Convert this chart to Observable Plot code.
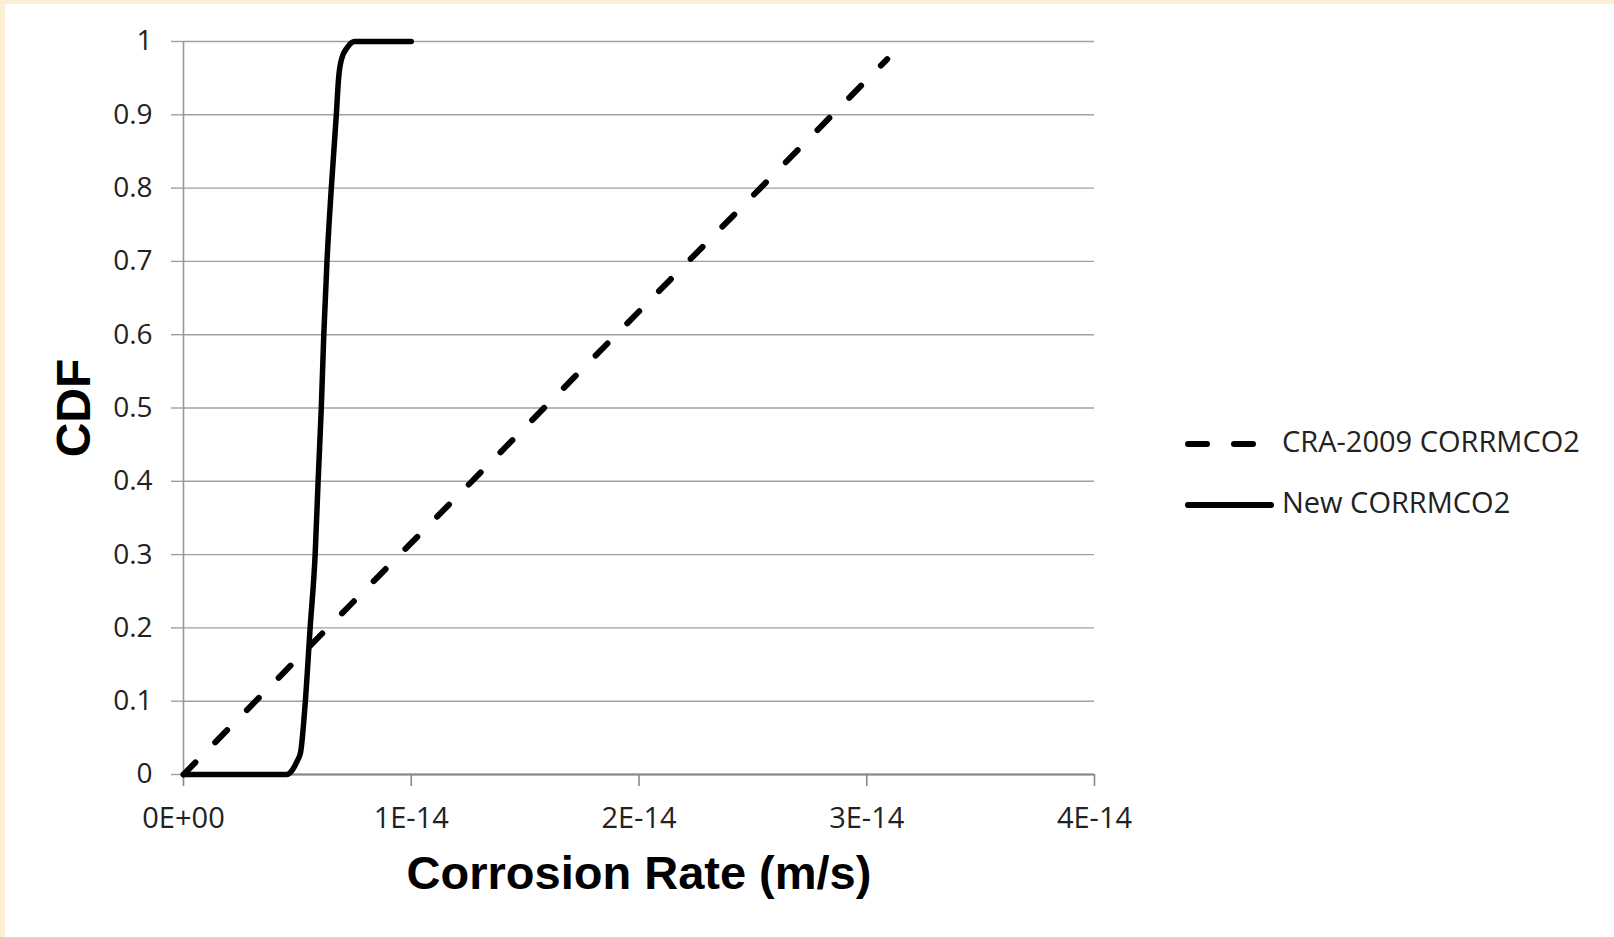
<!DOCTYPE html>
<html>
<head>
<meta charset="utf-8">
<script src="https://cdn.jsdelivr.net/npm/d3@7"></script>
<script src="https://cdn.jsdelivr.net/npm/@observablehq/plot@0.6"></script>
<style>
  html, body { margin: 0; padding: 0; background: #ffffff; }
  #wrap { position: relative; width: 1614px; height: 937px; overflow: hidden; background: #ffffff; }
  .band { position: absolute; background: #fcefd5; }
  #legend { position: absolute; left: 0; top: 0; }
</style>
</head>
<body>
<div id="wrap">
  <div class="band" style="left:0;top:0;width:1614px;height:4px;"></div>
  <div class="band" style="left:0;top:0;width:5px;height:937px;"></div>
  <div id="chart"></div>
  <svg id="legend" width="1614" height="937"></svg>
</div>
<script>
// ---- data (corrosion rate in m/s, CDF) ----
const craRate = [0, 3.09e-14];
const craCdf  = [0, 0.976];

const newRate = [0, 0.452e-14, 0.48e-14, 0.50e-14, 0.514e-14, 0.535e-14, 0.556e-14, 0.578e-14,
                 0.591e-14, 0.605e-14, 0.616e-14, 0.630e-14, 0.649e-14, 0.671e-14, 0.681e-14,
                 0.693e-14, 0.722e-14, 0.751e-14, 1.0e-14];
const newCdf  = [0, 0, 0.007, 0.019, 0.03, 0.1, 0.2, 0.3,
                 0.4, 0.5, 0.6, 0.7, 0.8, 0.9, 0.95,
                 0.975, 0.993, 1.0, 1.0];

const seriesNames = ["CRA-2009 CORRMCO2", "New CORRMCO2"];

const xTicks = [0, 1e-14, 2e-14, 3e-14, 4e-14];
const xTickLabels = ["0E+00", "1E-14", "2E-14", "3E-14", "4E-14"];
const yTicks = [0, 0.1, 0.2, 0.3, 0.4, 0.5, 0.6, 0.7, 0.8, 0.9, 1];
const yTickLabels = ["0", "0.1", "0.2", "0.3", "0.4", "0.5", "0.6", "0.7", "0.8", "0.9", "1"];

const xTitle = "Corrosion Rate (m/s)";
const yTitle = "CDF";

// ---- tables built from arrays ----
const craData = craRate.map((r, i) => ({rate: r, cdf: craCdf[i]}));
const newData = newRate.map((r, i) => ({rate: r, cdf: newCdf[i]}));

const tickFont = "'Open Sans', 'DejaVu Sans', sans-serif";
const titleFont = "'Liberation Sans', Arial, sans-serif";

const chart = Plot.plot({
  width: 1614,
  height: 937,
  marginLeft: 183,
  marginRight: 520,
  marginTop: 41,
  marginBottom: 163,
  style: {background: "transparent", fontFamily: tickFont, color: "#222"},
  x: {domain: [0, 4e-14]},
  y: {domain: [0, 1]},
  marks: [
    Plot.gridY(yTicks, {stroke: "#a0a0a0", strokeOpacity: 1, strokeWidth: 1.4}),
    Plot.axisY(yTicks, {
      tickSize: 12, tickPadding: 19, stroke: "#a0a0a0", strokeWidth: 1.4,
      fontSize: 28, label: null,
      tickFormat: d => yTickLabels[yTicks.indexOf(d)]
    }),
    Plot.axisX(xTicks, {
      tickSize: 12, tickPadding: 21, stroke: "#888", strokeWidth: 1.6,
      fontSize: 29, label: null,
      tickFormat: d => xTickLabels[xTicks.indexOf(d)]
    }),
    Plot.ruleX([0], {stroke: "#999", strokeWidth: 1.6}),
    Plot.ruleY([0], {stroke: "#888", strokeWidth: 1.8}),
    Plot.line(craData, {
      x: "rate", y: "cdf", stroke: "#000", strokeWidth: 6,
      strokeDasharray: "17,28.2", strokeLinecap: "round"
    }),
    Plot.line(newData, {
      x: "rate", y: "cdf", stroke: "#000", strokeWidth: 5.5,
      curve: "monotone-x", strokeLinejoin: "round", strokeLinecap: "round"
    }),
    Plot.text([xTitle], {
      frameAnchor: "bottom", dy: 99, lineAnchor: "middle",
      fontSize: 47, fontWeight: "bold", fontFamily: titleFont, fill: "#000"
    }),
    Plot.text([yTitle], {
      frameAnchor: "left", dx: -109, rotate: -90, textAnchor: "middle", lineAnchor: "middle",
      fontSize: 48, fontWeight: "bold", fontFamily: titleFont, fill: "#000"
    })
  ]
});
document.getElementById("chart").appendChild(chart);

// ---- legend ----
const lg = d3.select("#legend");
const items = [
  {name: seriesNames[0], y: 444, dash: "19,27", x2: 1253},
  {name: seriesNames[1], y: 505, dash: null, x2: 1271}
];
items.forEach(it => {
  const ln = lg.append("line")
    .attr("x1", 1188).attr("x2", it.x2)
    .attr("y1", it.y).attr("y2", it.y)
    .attr("stroke", "#000").attr("stroke-width", 6)
    .attr("stroke-linecap", "round");
  if (it.dash) ln.attr("stroke-dasharray", it.dash);
  lg.append("text")
    .attr("x", 1282).attr("y", it.y)
    .attr("dominant-baseline", "middle")
    .attr("font-family", tickFont)
    .attr("font-size", 29)
    .attr("fill", "#222")
    .text(it.name);
});
</script>
</body>
</html>
